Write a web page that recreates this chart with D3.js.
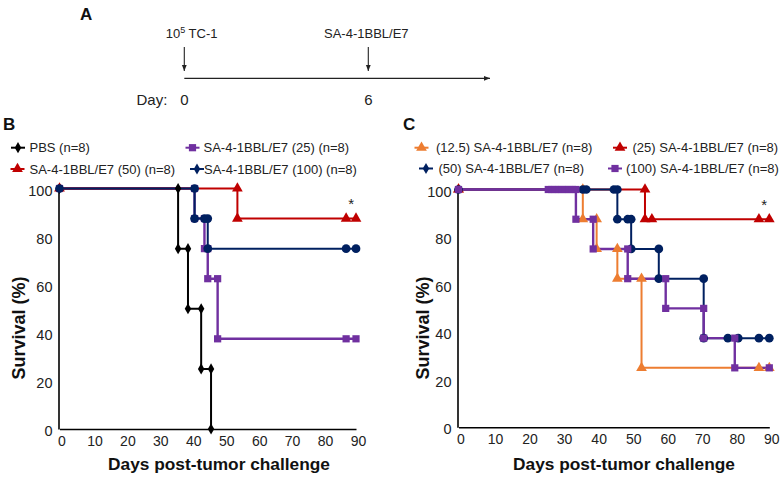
<!DOCTYPE html>
<html><head><meta charset="utf-8">
<script src="https://cdn.jsdelivr.net/npm/d3@7"></script>
<style>body{margin:0;background:#fff}svg{display:block}text{font-family:Arial,'Liberation Sans',sans-serif}</style>
</head><body>
<svg id="c" width="784" height="477"></svg>
<script>
// ---------- data ----------
const dayTicks = [0,10,20,30,40,50,60,70,80,90];
const survTicks = [0,20,40,60,80,100];

// Panel B
const bPbsDay  = [0,36,36,39,39,43,43,46,46];
const bPbsSurv = [100,100,75,75,50,50,25,25,0];
const b25Day   = [0,41,41,44,44,45,45,48,48,87,90];
const b25Surv  = [100,100,87.5,87.5,75,75,62.5,62.5,37.5,37.5,37.5];
const b50Day   = [0,54,54,87,90];
const b50Surv  = [100,100,87.5,87.5,87.5];
const b100Day  = [0,41,41,44,45,45,87,90];
const b100Surv = [100,100,87.5,87.5,87.5,75,75,75];

// Panel C
const c12Day   = [0,36,36,40,40,46,46,53,53,87,90];
const c12Surv  = [100,100,87.5,87.5,75,75,62.5,62.5,25,25,25];
const c25Day   = [0,54,54,56,87,90];
const c25Surv  = [100,100,87.5,87.5,87.5,87.5];
const c50Day   = [0,36,37,45,46,46,49,50,50,58,58,71,71,78,81,87,90];
const c50Surv  = [100,100,100,100,100,87.5,87.5,87.5,75,75,62.5,62.5,37.5,37.5,37.5,37.5,37.5];
const c100Day  = [0,26,27,28,29,30,31,32,33,34,34,39,39,49,49,60,60,71,71,80,80,90];
const c100Surv = [100,100,100,100,100,100,100,100,100,100,87.5,87.5,75,75,62.5,62.5,50,50,37.5,37.5,25,25];

const bLabels = ["PBS (n=8)","SA-4-1BBL/E7 (25) (n=8)","SA-4-1BBL/E7 (50) (n=8)","SA-4-1BBL/E7 (100) (n=8)"];
const cLabels = ["(12.5) SA-4-1BBL/E7 (n=8)","(25) SA-4-1BBL/E7 (n=8)","(50) SA-4-1BBL/E7 (n=8)","(100) SA-4-1BBL/E7 (n=8)"];

// ---------- styles ----------
const BLACK="#000000", RED="#C00000", PURPLE="#7030A0", NAVY="#002060", ORANGE="#ED7D31";
const svg = d3.select("#c");
const FONT = "Arial,'Liberation Sans',sans-serif";

const shapes = {
  diamond: d3.symbol().type(d3.symbolDiamond).size(36),
  square: d3.symbol().type(d3.symbolSquare).size(52),
  triangle: d3.symbol().type(d3.symbolTriangle).size(50),
  circle: d3.symbol().type(d3.symbolCircle).size(60)
};

function mk(day, surv){ return day.map((d,i)=>({d, s:surv[i]})); }

const seriesB = [
  {pts: mk(bPbsDay,bPbsSurv), color:BLACK, shape:"diamond", w:2},
  {pts: mk(b25Day,b25Surv), color:PURPLE, shape:"square", w:2.4},
  {pts: mk(b50Day,b50Surv), color:RED, shape:"triangle", w:2},
  {pts: mk(b100Day,b100Surv), color:NAVY, shape:"circle", w:2}
];
const seriesC = [
  {pts: mk(c12Day,c12Surv), color:ORANGE, shape:"triangle", w:2},
  {pts: mk(c25Day,c25Surv), color:RED, shape:"triangle", w:2},
  {pts: mk(c50Day,c50Surv), color:NAVY, shape:"circle", w:2},
  {pts: mk(c100Day,c100Surv), color:PURPLE, shape:"square", w:2.4}
];

function panel(series, x, y, star){
  const g = svg.append("g");
  const ax = g.append("g").attr("transform",`translate(0,${y(0)})`)
    .call(d3.axisBottom(x).tickValues(dayTicks).tickSize(0).tickPadding(7));
  ax.select(".domain").attr("stroke","#000").attr("stroke-width",1.6);
  ax.selectAll("text").attr("font-size",14).attr("fill","#222").attr("font-family",FONT).attr("dx",2);
  const ay = g.append("g").attr("transform",`translate(${x(0)-1},0)`)
    .call(d3.axisLeft(y).tickValues(survTicks).tickSize(0).tickPadding(6));
  ay.select(".domain").attr("stroke","#000").attr("stroke-width",1.6);
  ay.selectAll("text").attr("font-size",14.5).attr("fill","#222").attr("font-family",FONT).attr("dy","0.45em");
  const line = d3.line().x(p=>x(p.d)).y(p=>y(p.s));
  series.forEach(s=>{
    g.append("path").attr("d",line(s.pts)).attr("fill","none")
      .attr("stroke",s.color).attr("stroke-width",s.w);
  });
  series.forEach(s=>{
    g.selectAll(null).data(s.pts).enter().append("path")
      .attr("d",shapes[s.shape]())
      .attr("transform",p=>`translate(${x(p.d)},${y(p.s)})`)
      .attr("fill",s.color);
  });
  g.append("text").attr("x",x(star.d)).attr("y",y(star.s)).attr("text-anchor","middle")
    .attr("font-size",15).attr("fill","#222").text("*");
}

const xB = d3.scaleLinear().domain([0,90]).range([59.5,356]);
const yB = d3.scaleLinear().domain([0,100]).range([429,188.5]);
const xC = d3.scaleLinear().domain([0,90]).range([458.5,769.3]);
const yC = d3.scaleLinear().domain([0,100]).range([427.3,189.5]);

panel(seriesB, xB, yB, {d:88.5, s:91.5});
panel(seriesC, xC, yC, {d:88.5, s:91.5});

[[219,463.5],[624,463.5]].forEach(([cx,cy])=>{
  svg.append("text").attr("x",cx).attr("y",cy).attr("dy","0.35em").attr("text-anchor","middle")
    .attr("font-size",17.3).attr("font-weight","bold").attr("fill","#111").text("Days post-tumor challenge");
});
[[18.5,328],[422.5,328]].forEach(([cx,cy])=>{
  svg.append("text").attr("transform",`translate(${cx},${cy}) rotate(-90)`).attr("dy","0.35em")
    .attr("text-anchor","middle").attr("font-size",18).attr("font-weight","bold").attr("fill","#111").text("Survival (%)");
});

function legend(items){
  items.forEach(it=>{
    svg.append("line").attr("x1",it.mx-7).attr("x2",it.mx+7).attr("y1",it.y).attr("y2",it.y)
      .attr("stroke",it.color).attr("stroke-width",2);
    svg.append("path").attr("d",shapes[it.shape]()).attr("transform",`translate(${it.mx},${it.y})`).attr("fill",it.color);
    svg.append("text").attr("x",it.tx).attr("y",it.y).attr("dy","0.35em").attr("font-size",13)
      .attr("fill","#222").text(it.label);
  });
}
legend([
  {mx:18, tx:29.5, y:147.7, color:BLACK, shape:"diamond", label:bLabels[0]},
  {mx:192.5, tx:203.5, y:147.7, color:PURPLE, shape:"square", label:bLabels[1]},
  {mx:17.5, tx:29.5, y:169, color:RED, shape:"triangle", label:bLabels[2]},
  {mx:197, tx:204, y:169, color:NAVY, shape:"diamond", label:bLabels[3]}
]);
legend([
  {mx:421.5, tx:436, y:147.7, color:ORANGE, shape:"triangle", label:cLabels[0]},
  {mx:620, tx:632.5, y:147.7, color:RED, shape:"triangle", label:cLabels[1]},
  {mx:426, tx:438.5, y:168.5, color:NAVY, shape:"diamond", label:cLabels[2]},
  {mx:615, tx:626, y:168.5, color:PURPLE, shape:"square", label:cLabels[3]}
]);

[["A",80,19.5],["B",3,129.5],["C",403,129.5]].forEach(([t,x,y])=>{
  svg.append("text").attr("x",x).attr("y",y).attr("font-size",17).attr("font-weight","bold").attr("fill","#111").text(t);
});

// ---------- panel A timeline ----------
const defs = svg.append("defs");
defs.append("marker").attr("id","ah").attr("viewBox","0 0 10 10").attr("refX",10).attr("refY",5)
  .attr("markerWidth",6).attr("markerHeight",6).attr("markerUnits","userSpaceOnUse").attr("orient","auto")
  .append("path").attr("d","M0,1 L10,5 L0,9 Z").attr("fill","#222");
const timelineDays = [0,6];
const timelineLabels = ["TC-1","SA-4-1BBL/E7"];
const xA = d3.scaleLinear().domain([0,6]).range([184.3,368.3]);
svg.append("line").attr("x1",xA(0)).attr("x2",490).attr("y1",78.3).attr("y2",78.3)
  .attr("stroke","#222").attr("stroke-width",1.2).attr("marker-end","url(#ah)");
timelineDays.forEach(d=>{
  svg.append("line").attr("x1",xA(d)).attr("x2",xA(d)).attr("y1",47).attr("y2",71)
    .attr("stroke","#222").attr("stroke-width",1.1).attr("marker-end","url(#ah)");
  svg.append("text").attr("x",xA(d)).attr("y",100).attr("dy","0.35em").attr("text-anchor","middle")
    .attr("font-size",15).attr("fill","#222").text(d);
});
svg.append("text").attr("x",136.5).attr("y",100).attr("dy","0.35em").attr("font-size",15).attr("fill","#222").text("Day:");
const t1 = svg.append("text").attr("x",165.7).attr("y",38).attr("font-size",13).attr("fill","#222");
t1.append("tspan").text("10");
t1.append("tspan").attr("font-size",9).attr("dy",-5).text("5");
t1.append("tspan").attr("dy",5).text(" " + timelineLabels[0]);
svg.append("text").attr("x",xA(6)-2).attr("y",38).attr("text-anchor","middle").attr("font-size",13)
  .attr("fill","#222").text(timelineLabels[1]);
</script>
</body></html>
